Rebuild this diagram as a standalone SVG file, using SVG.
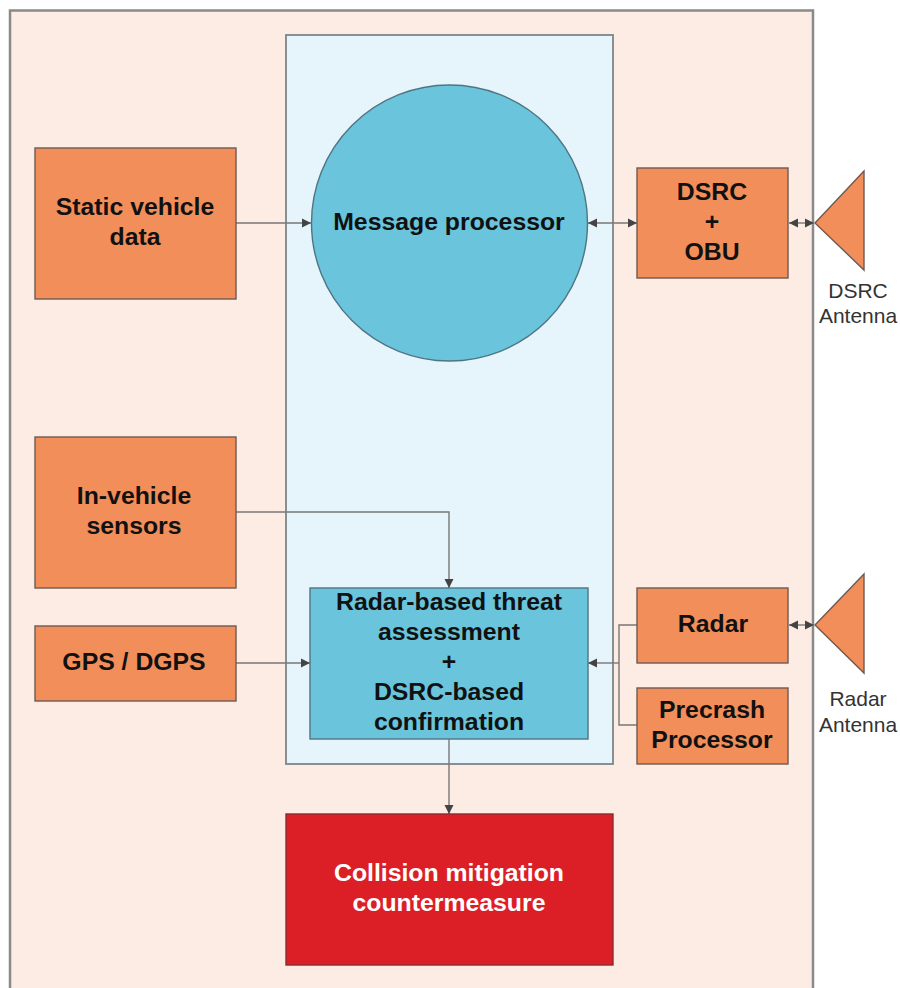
<svg xmlns="http://www.w3.org/2000/svg" width="900" height="988" viewBox="0 0 900 988">
<defs>
<marker id="end" markerUnits="userSpaceOnUse" markerWidth="12" markerHeight="12" refX="10" refY="6" orient="auto-start-reverse"><path d="M1 1.500L10 6L1 10.500Z" fill="#444"/></marker>
</defs>
<style>
.c{fill:none;stroke:#777;stroke-width:1.4}
.a{marker-end:url(#end)}
.d{marker-start:url(#end);marker-end:url(#end)}
.o{fill:#f28e5a;stroke:#6e5a50;stroke-width:1.4}
.b{fill:#69c4dc;stroke:#4f7584;stroke-width:1.4}
text{font-family:"Liberation Sans",Arial,sans-serif;text-anchor:middle}
.t{font-size:24.8px;font-weight:bold;fill:#111}
.w{font-size:24.8px;font-weight:bold;fill:#fff}
.l{font-size:21px;fill:#333}
</style>
<rect id="bg" width="900" height="988" fill="#fff"/>
<g id="vehicle"><path d="M813 988V10.500H10V988" fill="#fdece4" stroke="#8a8a8a" stroke-width="2.500"/></g>
<g id="processor-panel"><rect x="286" y="35" width="327" height="729" fill="#e6f4fb" stroke="#7d8588" stroke-width="1.800"/></g>
<g id="connectors">
<path class="c a" d="M236 223H311"/>
<path class="c d" d="M588 223H637"/>
<path class="c d" d="M789 223H814"/>
<path class="c a" d="M236 512H449V588"/>
<path class="c a" d="M236 663H310"/>
<path class="c" d="M637 625H619V725H637"/>
<path class="c a" d="M619 663H588"/>
<path class="c d" d="M789 625H814"/>
<path class="c a" d="M449 739V814"/>
</g>
<g id="message-processor"><circle class="b" cx="449.500" cy="223" r="138"/><text class="t" x="449" y="230">Message processor</text></g>
<g id="static-vehicle-data"><rect class="o" x="35" y="148" width="201" height="151"/><text class="t" x="135" y="215">Static vehicle</text><text class="t" x="135" y="245">data</text></g>
<g id="dsrc-obu"><rect class="o" x="637" y="168" width="151" height="110"/><text class="t" x="712" y="200">DSRC</text><text class="t" x="712" y="230">+</text><text class="t" x="712" y="260">OBU</text></g>
<g id="dsrc-antenna"><path class="o" d="M815 223L864 171V270Z" stroke-width="1"/><text class="l" x="858" y="298">DSRC</text><text class="l" x="858" y="323">Antenna</text></g>
<g id="in-vehicle-sensors"><rect class="o" x="35" y="437" width="201" height="151"/><text class="t" x="134" y="504">In-vehicle</text><text class="t" x="134" y="534">sensors</text></g>
<g id="gps"><rect class="o" x="35" y="626" width="201" height="75"/><text class="t" x="134" y="670">GPS / DGPS</text></g>
<g id="threat-assessment"><rect class="b" x="310" y="588" width="278" height="151"/><text class="t" x="449" y="610">Radar-based threat</text><text class="t" x="449" y="640">assessment</text><text class="t" x="449" y="670">+</text><text class="t" x="449" y="700">DSRC-based</text><text class="t" x="449" y="730">confirmation</text></g>
<g id="radar"><rect class="o" x="637" y="588" width="151" height="75"/><text class="t" x="713" y="632">Radar</text></g>
<g id="radar-antenna"><path class="o" d="M815 625L864 574V673Z" stroke-width="1"/><text class="l" x="858" y="706">Radar</text><text class="l" x="858" y="732">Antenna</text></g>
<g id="precrash"><rect class="o" x="637" y="688" width="151" height="76"/><text class="t" x="712" y="718">Precrash</text><text class="t" x="712" y="748">Processor</text></g>
<g id="countermeasure"><rect x="286" y="814" width="327" height="151" fill="#dc1f26" stroke="#8d2a2e" stroke-width="1.400"/><text class="w" x="449" y="881">Collision mitigation</text><text class="w" x="449" y="911">countermeasure</text></g>
</svg>
